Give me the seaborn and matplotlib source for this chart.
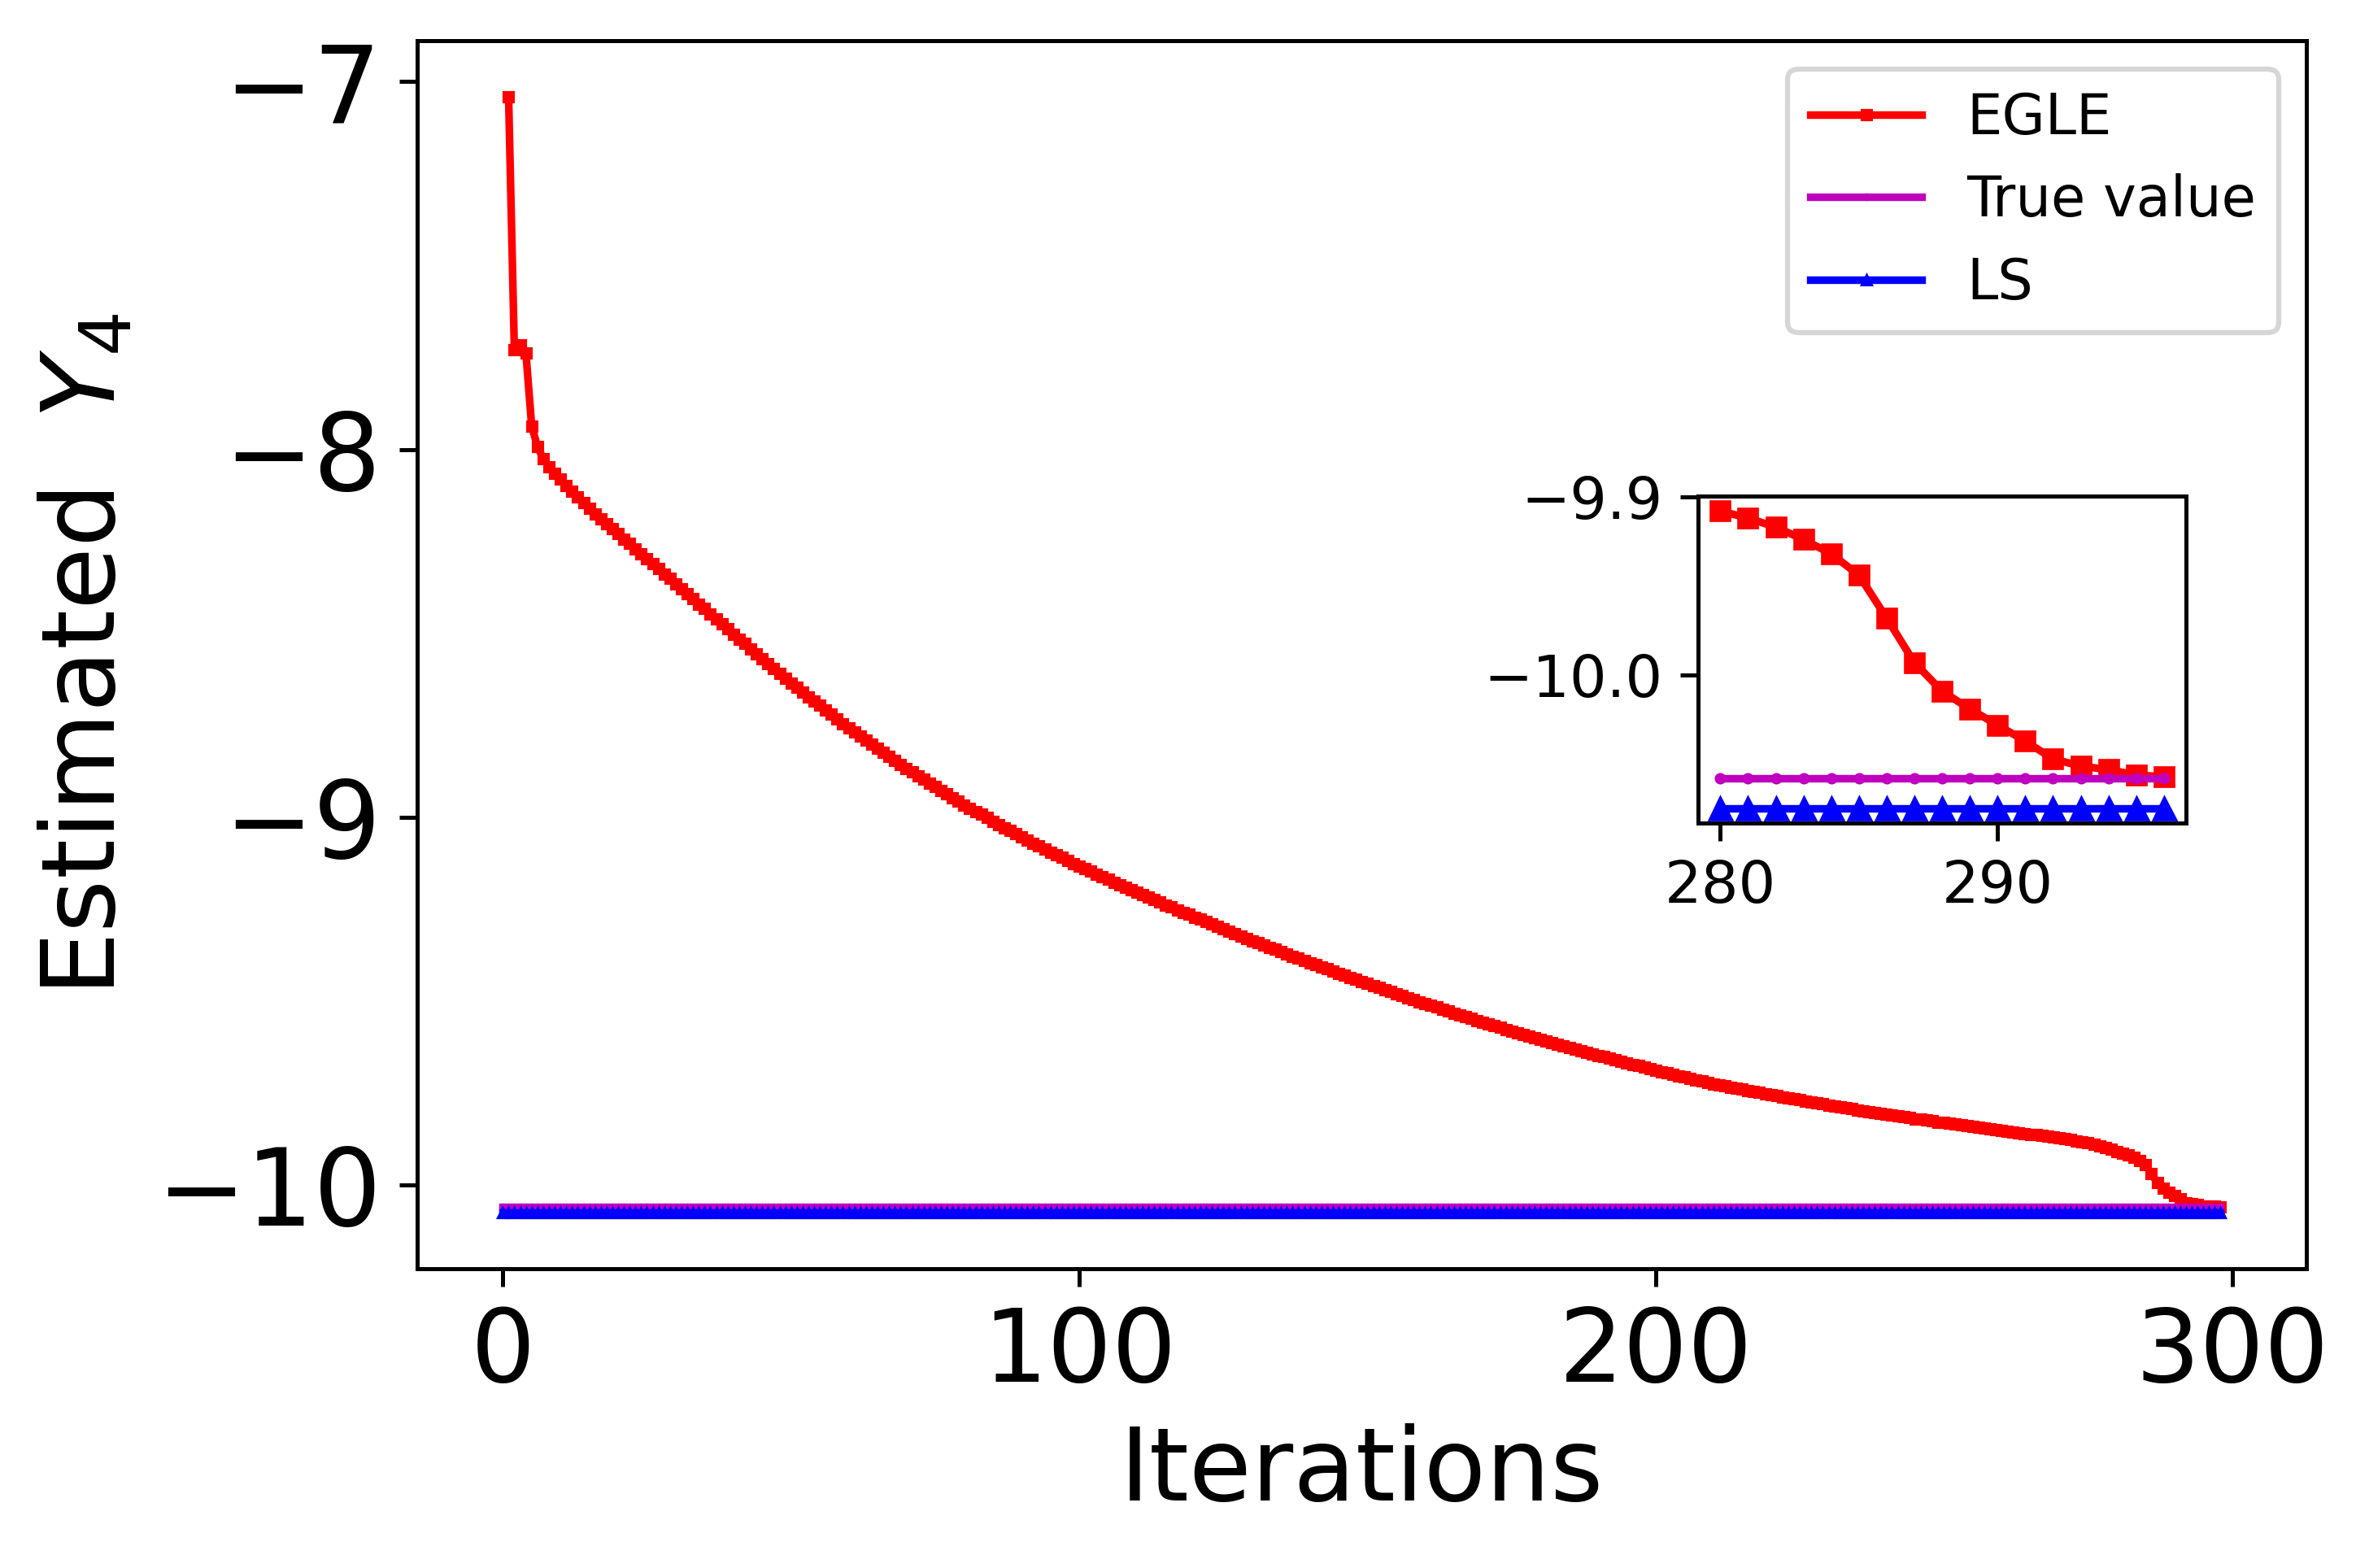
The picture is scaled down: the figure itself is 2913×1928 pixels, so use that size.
import numpy as np
import matplotlib
matplotlib.use("Agg")
import matplotlib.pyplot as plt
import seaborn as sns

# EGLE estimate of Y4, iterations 1..298
egle = [
    -7.041, -7.729, -7.716, -7.737, -7.936, -7.992, -8.025, -8.047, -8.064, -8.081,
    -8.098, -8.114, -8.130, -8.145, -8.160, -8.175, -8.189, -8.203, -8.216, -8.229,
    -8.243, -8.256, -8.270, -8.283, -8.297, -8.311, -8.324, -8.338, -8.351, -8.365,
    -8.379, -8.392, -8.406, -8.420, -8.433, -8.447, -8.461, -8.474, -8.488, -8.502,
    -8.515, -8.528, -8.542, -8.555, -8.568, -8.582, -8.595, -8.608, -8.622, -8.635,
    -8.647, -8.659, -8.672, -8.684, -8.696, -8.708, -8.720, -8.733, -8.745, -8.757,
    -8.768, -8.779, -8.790, -8.801, -8.812, -8.823, -8.834, -8.845, -8.856, -8.867,
    -8.877, -8.887, -8.897, -8.907, -8.917, -8.926, -8.936, -8.946, -8.956, -8.966,
    -8.975, -8.984, -8.992, -9.001, -9.010, -9.019, -9.028, -9.036, -9.045, -9.054,
    -9.062, -9.070, -9.078, -9.086, -9.094, -9.101, -9.109, -9.117, -9.125, -9.133,
    -9.140, -9.147, -9.154, -9.161, -9.169, -9.176, -9.183, -9.190, -9.197, -9.204,
    -9.211, -9.217, -9.224, -9.231, -9.238, -9.244, -9.251, -9.258, -9.264, -9.271,
    -9.277, -9.284, -9.290, -9.297, -9.303, -9.309, -9.316, -9.322, -9.329, -9.335,
    -9.341, -9.347, -9.353, -9.359, -9.365, -9.371, -9.377, -9.383, -9.389, -9.395,
    -9.401, -9.406, -9.412, -9.418, -9.424, -9.429, -9.435, -9.441, -9.446, -9.452,
    -9.457, -9.463, -9.468, -9.474, -9.479, -9.484, -9.490, -9.495, -9.501, -9.506,
    -9.511, -9.516, -9.521, -9.526, -9.532, -9.537, -9.542, -9.547, -9.552, -9.557,
    -9.562, -9.566, -9.571, -9.576, -9.581, -9.585, -9.590, -9.595, -9.599, -9.604,
    -9.608, -9.613, -9.617, -9.621, -9.626, -9.630, -9.634, -9.638, -9.643, -9.647,
    -9.651, -9.655, -9.659, -9.663, -9.667, -9.671, -9.675, -9.679, -9.683, -9.687,
    -9.691, -9.694, -9.698, -9.702, -9.706, -9.709, -9.713, -9.717, -9.720, -9.724,
    -9.727, -9.730, -9.733, -9.736, -9.739, -9.742, -9.745, -9.748, -9.751, -9.754,
    -9.757, -9.760, -9.762, -9.765, -9.768, -9.771, -9.774, -9.776, -9.779, -9.782,
    -9.785, -9.787, -9.790, -9.792, -9.795, -9.797, -9.800, -9.802, -9.805, -9.807,
    -9.809, -9.812, -9.814, -9.816, -9.819, -9.821, -9.823, -9.825, -9.828, -9.830,
    -9.832, -9.834, -9.836, -9.838, -9.841, -9.843, -9.845, -9.847, -9.849, -9.851,
    -9.853, -9.855, -9.857, -9.859, -9.861, -9.863, -9.865, -9.867, -9.869, -9.871,
    -9.873, -9.876, -9.879, -9.882, -9.885, -9.889, -9.893, -9.897, -9.902, -9.908,
    -9.912, -9.917, -9.924, -9.932, -9.944, -9.968, -9.993, -10.009, -10.019, -10.028,
    -10.037, -10.047, -10.051, -10.053, -10.056, -10.057, -10.057, -10.058,
]
egle_iter = np.arange(1, len(egle) + 1)

# constant references
true_value = -10.058
ls_value = -10.0746
ref_iter = np.arange(0, 299)
true_line = [true_value] * len(ref_iter)
ls_line = [ls_value] * len(ref_iter)

# zoomed window
zoom_start, zoom_end = 280, 296

DPI = 450
fig = plt.figure(figsize=(2913 / DPI, 1928 / DPI), dpi=DPI)
ax = fig.add_axes([0.176, 0.191, 0.7976, 0.783])

sns.lineplot(x=egle_iter, y=egle, color="r", marker="s", markersize=2,
             markeredgecolor="r", markeredgewidth=0.5, linewidth=1.5,
             label="EGLE", ax=ax)
sns.lineplot(x=ref_iter, y=true_line, color="m", marker=".", markersize=2,
             markeredgecolor="m", markeredgewidth=0.5, linewidth=1.5,
             label="True value", ax=ax)
sns.lineplot(x=ref_iter, y=ls_line, color="b", marker="^", markersize=2,
             markeredgecolor="b", markeredgewidth=0.5, linewidth=1.5,
             label="LS", ax=ax)

ax.set_xticks([0, 100, 200, 300])
ax.set_yticks([-10, -9, -8, -7])
ax.tick_params(axis="y", labelsize=21)
ax.tick_params(axis="x", labelsize=20)
ax.set_xlabel("Iterations", fontsize=20)
ax.set_ylabel("Estimated  $Y_4$", fontsize=20)
ax.legend(loc="upper right", fontsize=11)

# inset
axins = fig.add_axes([0.7168, 0.4751, 0.206, 0.2085])
m = (egle_iter >= zoom_start) & (egle_iter <= zoom_end)
r = (ref_iter >= zoom_start) & (ref_iter <= zoom_end)
sns.lineplot(x=egle_iter[m], y=np.array(egle)[m], color="r", marker="s",
             markersize=3.5, markeredgecolor="r", linewidth=1.5, ax=axins)
sns.lineplot(x=ref_iter[r], y=np.array(true_line)[r], color="m", marker=".",
             markersize=3, markeredgecolor="m", linewidth=1.5, ax=axins)
sns.lineplot(x=ref_iter[r], y=np.array(ls_line)[r], color="b", marker="^",
             markersize=4, markeredgecolor="b", linewidth=1.5, ax=axins)
axins.set_xticks([280, 290])
axins.set_yticks([-10.0, -9.9])
axins.tick_params(labelsize=11.5)

fig.savefig("out.png", dpi=DPI)
